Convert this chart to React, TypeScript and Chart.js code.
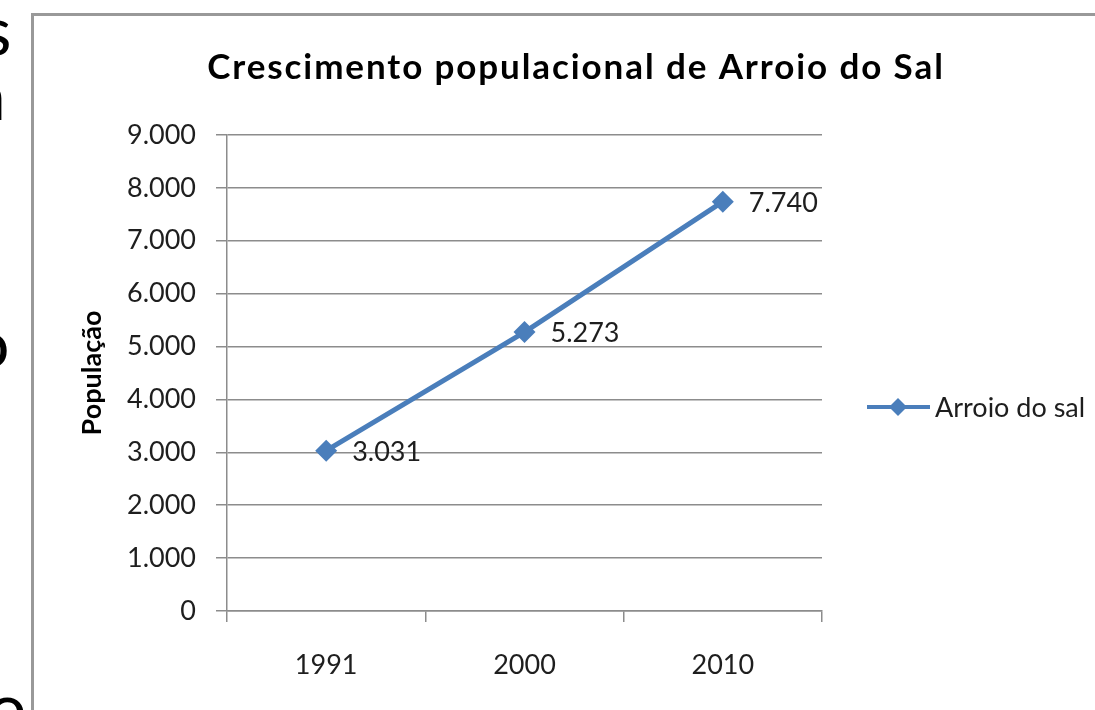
import React, { useEffect, useRef } from "react";
import { Chart, registerables } from "chart.js";

Chart.register(...registerables);

const TITLE = "Crescimento populacional de Arroio do Sal";
const Y_TITLE = "População";
const SERIES_NAME = "Arroio do sal";
const YEARS = ["1991", "2000", "2010"];
const POPULATION = [3031, 5273, 7740];
const Y_MIN = 0;
const Y_MAX = 9000;
const Y_STEP = 1000;

const FONT = "Lato, 'Open Sans', sans-serif";
const BLUE = "#4a7ebb";
const GRID = "#8c8c8c";
const TEXT = "#1e1e1e";

const fmt = (v: number) => String(v).replace(/\B(?=(\d{3})+(?!\d))/g, ".");

const overlay = {
  id: "overlay",
  afterDatasetsDraw(chart: any) {
    const ctx = chart.ctx as CanvasRenderingContext2D;
    const meta = chart.getDatasetMeta(0);
    ctx.save();
    // data labels
    ctx.font = `27px ${FONT}`;
    ctx.fillStyle = TEXT;
    ctx.textAlign = "left";
    ctx.textBaseline = "alphabetic";
    meta.data.forEach((pt: any, i: number) => {
      ctx.fillText(fmt(POPULATION[i]), pt.x + 26, pt.y + 10);
    });
    // title
    ctx.font = `bold 35px ${FONT}`;
    ctx.fillStyle = "#000";
    ctx.textAlign = "center";
    (ctx as any).letterSpacing = "1.9px";
    ctx.fillText(TITLE, 576, 79);
    (ctx as any).letterSpacing = "0px";
    // legend
    const ly = 407;
    ctx.strokeStyle = BLUE;
    ctx.lineWidth = 4;
    ctx.beginPath();
    ctx.moveTo(867, ly);
    ctx.lineTo(930, ly);
    ctx.stroke();
    ctx.fillStyle = BLUE;
    ctx.beginPath();
    ctx.moveTo(898, ly - 9);
    ctx.lineTo(907, ly);
    ctx.lineTo(898, ly + 9);
    ctx.lineTo(889, ly);
    ctx.closePath();
    ctx.fill();
    ctx.font = `27px ${FONT}`;
    ctx.fillStyle = TEXT;
    ctx.textAlign = "left";
    ctx.fillText(SERIES_NAME, 935, ly + 10);
    ctx.restore();
  },
};

export default function App() {
  const ref = useRef<HTMLCanvasElement>(null);
  useEffect(() => {
    if (!ref.current) return;
    const chart = new Chart(ref.current, {
      type: "line",
      data: {
        labels: YEARS,
        datasets: [
          {
            label: SERIES_NAME,
            data: POPULATION,
            borderColor: BLUE,
            backgroundColor: BLUE,
            borderWidth: 5,
            pointStyle: "rectRot",
            pointRadius: 11,
            pointBorderWidth: 0,
            pointBackgroundColor: BLUE,
            tension: 0,
          },
        ],
      },
      options: {
        responsive: false,
        animation: false,
        devicePixelRatio: 1,
        layout: { padding: { left: 76, right: 273, top: 135, bottom: 0 } },
        plugins: {
          legend: { display: false },
          title: { display: false },
          tooltip: { enabled: false },
        },
        scales: {
          x: {
            offset: true,
            afterFit: (s: any) => {
              s.height = 99;
            },
            grid: {
              offset: true,
              drawOnChartArea: false,
              drawTicks: true,
              tickLength: 11,
              color: GRID,
              lineWidth: 1.5,
            },
            border: { display: true, color: GRID, width: 1.5 },
            ticks: {
              padding: 27,
              color: TEXT,
              font: { family: FONT, size: 27 },
              maxRotation: 0,
            },
          },
          y: {
            min: Y_MIN,
            max: Y_MAX,
            afterFit: (s: any) => {
              s.width = 151;
            },
            ticks: {
              stepSize: Y_STEP,
              padding: 20,
              color: TEXT,
              font: { family: FONT, size: 27 },
              callback: (v: any) => fmt(Number(v)),
            },
            grid: {
              color: GRID,
              lineWidth: 1.5,
              drawTicks: true,
              tickLength: 11,
            },
            border: { display: true, color: GRID, width: 1.5 },
            title: {
              display: true,
              text: Y_TITLE,
              color: "#000",
              font: { family: FONT, size: 27, weight: "bold" },
              padding: { top: 0, bottom: 0 },
            },
          },
        },
      },
      plugins: [overlay],
    } as any);
    return () => chart.destroy();
  }, []);

  const frag: React.CSSProperties = {
    position: "absolute",
    fontFamily: FONT,
    fontSize: 68,
    lineHeight: 1,
    color: "#000",
    whiteSpace: "nowrap",
  };

  return (
    <div
      style={{
        position: "fixed",
        left: 0,
        top: 0,
        width: 1095,
        height: 710,
        overflow: "hidden",
        background: "#fff",
      }}
    >
      <div style={{ position: "absolute", left: 0, top: 0, width: 31, height: 710, overflow: "hidden" }}>
        <span style={{ ...frag, left: -18, top: -5 }}>s</span>
        <span style={{ ...frag, left: -28, top: 60 }}>a</span>
        <span style={{ ...frag, left: -29, top: 308 }}>o</span>
        <span style={{ ...frag, left: -12, top: 672 }}>o</span>
      </div>
      <div
        style={{
          position: "absolute",
          left: 31,
          top: 13,
          width: 2000,
          height: 2000,
          borderLeft: "3px solid #999",
          borderTop: "3px solid #999",
        }}
      />
      <canvas
        ref={ref}
        width={1095}
        height={710}
        style={{ position: "absolute", left: 0, top: 0, width: 1095, height: 710 }}
      />
    </div>
  );
}
